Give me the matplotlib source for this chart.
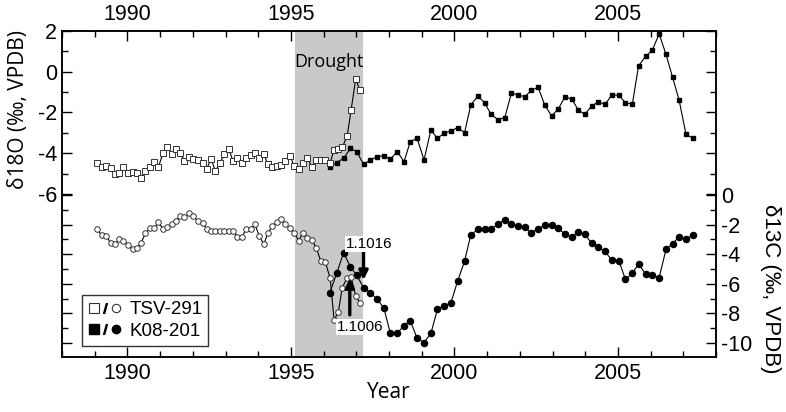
import matplotlib
matplotlib.use("Agg")
import matplotlib.pyplot as plt
from matplotlib.lines import Line2D
from matplotlib.legend_handler import HandlerTuple
from matplotlib.ticker import MultipleLocator, FixedLocator
import matplotlib.transforms as mtransforms

plt.rcParams["font.family"] = ["Liberation Sans", "DejaVu Sans"]
plt.rcParams["axes.unicode_minus"] = False

# TSV-291 (shared sampling positions for d18O and d13C)
tsv_year = [1989.07, 1989.21, 1989.36, 1989.49, 1989.61, 1989.75, 1989.88, 1990.01, 1990.16, 1990.28,
            1990.42, 1990.55, 1990.69, 1990.82, 1990.95, 1991.09, 1991.22, 1991.35, 1991.48, 1991.61,
            1991.74, 1991.89, 1992.02, 1992.15, 1992.30, 1992.42, 1992.56, 1992.69, 1992.83, 1992.96,
            1993.10, 1993.23, 1993.36, 1993.50, 1993.63, 1993.77, 1993.90, 1994.03, 1994.17, 1994.29,
            1994.43, 1994.56, 1994.70, 1994.83, 1994.97, 1995.10, 1995.24, 1995.36, 1995.50, 1995.64,
            1995.78, 1995.91, 1996.05, 1996.20, 1996.32, 1996.45, 1996.57, 1996.72, 1996.84, 1996.98,
            1997.11]
tsv_d18o = [-4.46, -4.69, -4.61, -4.70, -5.03, -4.98, -4.69, -4.98, -4.93, -4.95,
            -5.23, -4.85, -4.69, -4.41, -4.66, -4.00, -3.68, -4.03, -3.79, -4.00,
            -4.36, -4.20, -4.29, -4.33, -4.46, -4.77, -4.29, -4.87, -4.49, -4.05,
            -3.80, -4.38, -4.25, -4.49, -4.21, -4.08, -3.97, -4.21, -4.03, -4.54,
            -4.66, -4.61, -4.57, -4.36, -4.13, -4.61, -4.78, -4.46, -4.25, -4.66,
            -4.33, -4.33, -4.33, -4.46, -3.84, -3.80, -3.71, -3.15, -1.88, -0.37,
            -0.90]
tsv_d13c = [-2.30, -2.70, -2.75, -3.27, -3.33, -2.99, -3.09, -3.38, -3.67, -3.60,
            -3.22, -2.59, -2.25, -2.25, -1.82, -2.30, -2.14, -1.98, -1.76, -1.42,
            -1.51, -1.24, -1.40, -1.74, -1.87, -2.32, -2.41, -2.41, -2.41, -2.41,
            -2.41, -2.41, -2.82, -2.82, -2.32, -2.30, -1.98, -2.75, -3.33, -2.59,
            -2.09, -1.85, -1.62, -1.98, -2.25, -2.55, -3.09, -2.55, -2.93, -3.04,
            -3.60, -4.44, -4.51, -5.63, -8.45, -7.90, -6.25, -5.60, -5.55, -6.80,
            -7.32]

# K08-201
k08_year = [1996.19, 1996.40, 1996.61, 1996.82, 1997.01, 1997.22, 1997.43, 1997.63, 1997.84, 1998.04,
            1998.25, 1998.46, 1998.65, 1998.86, 1999.07, 1999.28, 1999.48, 1999.68, 1999.89, 2000.10,
            2000.31, 2000.50, 2000.72, 2000.92, 2001.12, 2001.33, 2001.54, 2001.74, 2001.94, 2002.15,
            2002.35, 2002.56, 2002.76, 2002.97, 2003.17, 2003.38, 2003.59, 2003.79, 2003.99, 2004.20,
            2004.40, 2004.61, 2004.81, 2005.03, 2005.23, 2005.44, 2005.63, 2005.85, 2006.05, 2006.26,
            2006.47, 2006.67, 2006.87, 2007.08, 2007.28]
k08_d18o = [-4.66, -4.46, -4.25, -3.76, -3.92, -4.54, -4.33, -4.17, -4.12, -4.29,
            -3.92, -4.41, -3.43, -3.27, -4.33, -2.86, -3.27, -3.02, -2.91, -2.74,
            -2.99, -1.63, -1.19, -1.52, -2.09, -2.35, -2.25, -1.06, -1.13, -1.23,
            -0.92, -0.77, -1.63, -2.17, -1.84, -1.23, -1.35, -1.88, -2.09, -1.67,
            -1.49, -1.60, -1.14, -1.16, -1.52, -1.60, 0.29, 0.76, 1.05, 1.86,
            0.85, -0.27, -1.39, -3.06, -3.26]
k08_d13c = [-6.60, -5.29, -3.90, -4.85, -5.42, -6.25, -6.60, -7.03, -7.62, -9.35,
            -9.35, -8.82, -8.50, -9.69, -9.97, -9.35, -7.73, -7.49, -7.30, -5.80,
            -4.47, -2.68, -2.32, -2.32, -2.32, -1.96, -1.69, -1.96, -2.09, -2.18,
            -2.55, -2.27, -2.05, -2.05, -2.25, -2.64, -2.86, -2.48, -2.66, -3.27,
            -3.54, -3.80, -4.42, -4.46, -5.70, -5.29, -4.66, -5.34, -5.41, -5.58,
            -3.67, -3.29, -2.82, -2.97, -2.72]

drought = (1995.11, 1997.20)

# sample labels with arrows: (label, arrow x, tail, head, text x, text y)
samples = [("1.1016", 1997.22, -3.83, -5.74, 1997.40, -3.31),
           ("1.1006", 1996.80, -8.10, -5.63, 1997.12, -8.95)]

fig = plt.figure(figsize=(7.86, 4.12), dpi=100)
ax1 = fig.add_axes([0.0789, 0.1335, 0.8321, 0.7913])
ax2 = ax1.twinx()

ax1.axvspan(*drought, color="#c9c9c9", lw=0, zorder=0)
ax1.text((drought[0] + drought[1]) / 2, 0.905, "Drought", family="Open Sans",
         fontsize=13, ha="center", va="center",
         transform=mtransforms.blended_transform_factory(ax1.transData, ax1.transAxes))

line_kw = dict(color="black", lw=0.8)
ax1.plot(k08_year, k08_d18o, marker="s", ms=3.0, mfc="black", mec="black", **line_kw)
ax1.plot(tsv_year, tsv_d18o, marker="s", ms=4.1, mfc="white", mec="#333333", mew=0.7, **line_kw)
ax2.plot(k08_year, k08_d13c, marker="o", ms=4.4, mfc="black", mec="black", **line_kw)
ax2.plot(tsv_year, tsv_d13c, marker="o", ms=4.0, mfc="white", mec="#333333", mew=0.7, **line_kw)

for label, ax_x, tail, head, tx, ty in samples:
    ax2.annotate("", xy=(ax_x, head), xytext=(ax_x, tail),
                 arrowprops=dict(arrowstyle="-|>", lw=2.4, color="black", mutation_scale=13,
                                 shrinkA=0, shrinkB=0))
    ax2.text(tx, ty, label, fontsize=11, ha="center", va="center",
             bbox=dict(facecolor="white", edgecolor="none", pad=0.8))

ax1.set_xlim(1988, 2008)
ax1.set_ylim(-14, 2)
ax2.set_ylim(-10.95, 11.1)

ax1.xaxis.set_major_locator(MultipleLocator(5))
ax1.xaxis.set_minor_locator(MultipleLocator(1))
ax1.yaxis.set_major_locator(FixedLocator([-6, -4, -2, 0, 2]))
ax1.yaxis.set_minor_locator(FixedLocator([-5, -3, -1, 1]))
ax2.yaxis.set_major_locator(FixedLocator([-10, -8, -6, -4, -2, 0]))
ax2.yaxis.set_minor_locator(FixedLocator([-9, -7, -5, -3, -1]))

ax1.tick_params(axis="x", which="both", direction="in", top=True, labeltop=True, labelsize=15.5, pad=4)
ax1.tick_params(axis="y", which="both", direction="in", right=True, labelright=False, labelsize=15.5)
ax2.tick_params(axis="y", which="both", direction="in", left=True, labelleft=False, labelsize=15.5)
for ax in (ax1, ax2):
    ax.tick_params(which="major", length=7, width=1)
    ax.tick_params(which="minor", length=4, width=1)
    for s in ax.spines.values():
        s.set_linewidth(1.1)

ax1.set_xlabel("Year", family="Open Sans", fontsize=15, labelpad=-1)
fig.text(0.023, 0.735, "δ18O (‰, VPDB)", rotation=90, family="Open Sans",
         fontsize=15, ha="center", va="center")
fig.text(0.98, 0.30, "δ13C (‰, VPDB)", rotation=270, fontsize=16,
         ha="center", va="center")

slash = r"$\mathregular{/}$"
h_tsv = (Line2D([], [], marker="s", ms=7.5, mfc="white", mec="#333333", mew=0.8, ls="none"),
         Line2D([], [], marker=slash, ms=7, color="black", ls="none"),
         Line2D([], [], marker="o", ms=6, mfc="white", mec="#333333", mew=0.8, ls="none"))
h_k08 = (Line2D([], [], marker="s", ms=6.5, color="black", ls="none"),
         Line2D([], [], marker=slash, ms=7, color="black", ls="none"),
         Line2D([], [], marker="o", ms=6, color="black", ls="none"))
leg = ax2.legend([h_tsv, h_k08], ["TSV-291", "K08-201"],
                 handler_map={tuple: HandlerTuple(ndivide=None, pad=0.0)},
                 loc="lower left", bbox_to_anchor=(0.031, 0.035), frameon=True,
                 fancybox=False, edgecolor="black", fontsize=13.5, handlelength=1.8,
                 handletextpad=0.4, borderpad=0.3, borderaxespad=0, labelspacing=0.25)
leg.get_frame().set_linewidth(1.0)

fig.savefig("out.png", dpi=100)
